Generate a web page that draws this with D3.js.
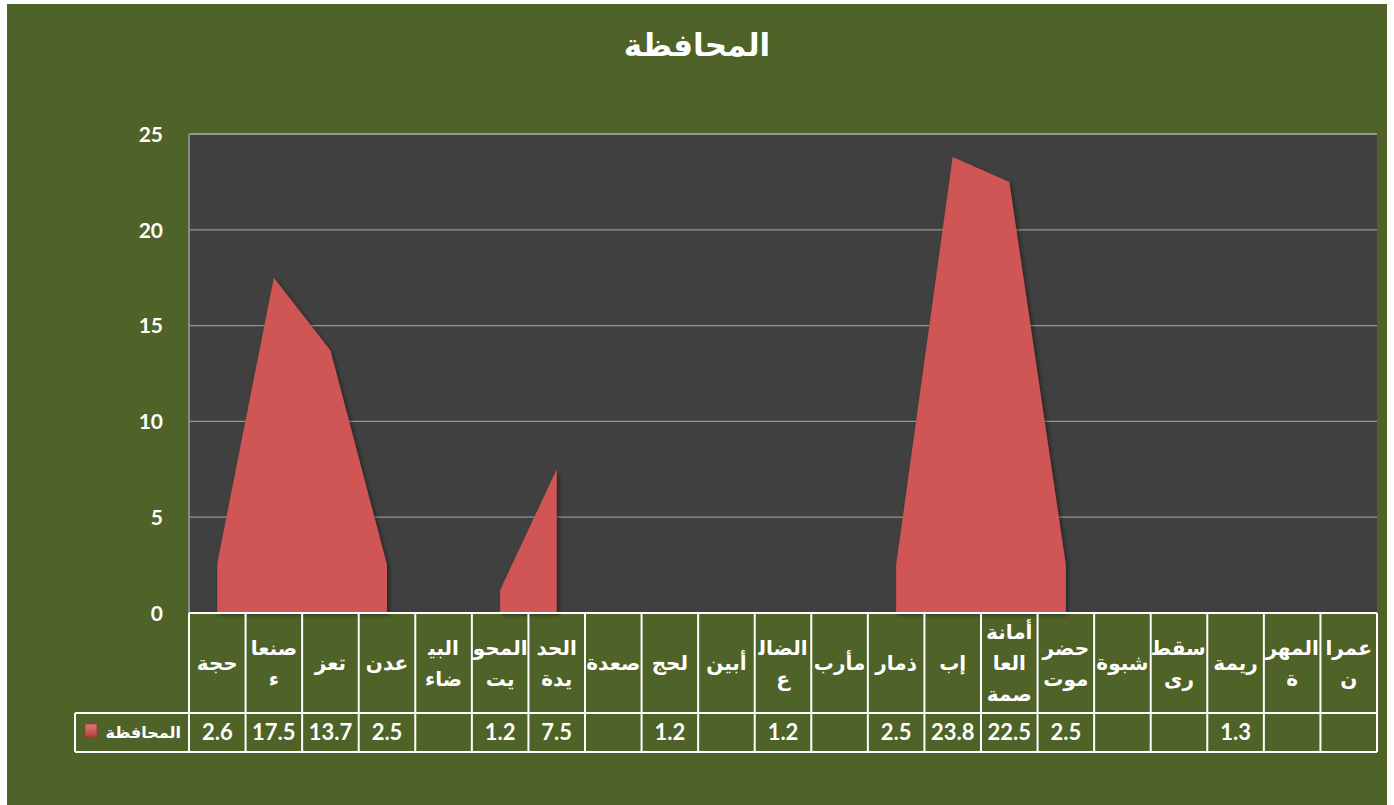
<!DOCTYPE html>
<meta charset="utf-8">
<head>
<style>
body { margin: 0; background: #fff; }
.ar { font-family: "DejaVu Sans", sans-serif; font-weight: bold; fill: #fff; }
.num { font-family: Lato, "Open Sans", sans-serif; font-weight: bold; fill: #fff; }
</style>
<script src="https://cdnjs.cloudflare.com/ajax/libs/d3/7.8.5/d3.min.js"></script>
</head>
<body>
<div id="vis-container"></div>
<script>
var chartTitle = 'المحافظة';
var seriesName = 'المحافظة';
var governorates = ['حجة','صنعاء','تعز','عدن','البيضاء','المحويت','الحديدة','صعدة','لحج','أبين','الضالع','مأرب','ذمار','إب','أمانة العاصمة','حضرموت','شبوة','سقطرى','ريمة','المهرة','عمران'];
var values = [2.6, 17.5, 13.7, 2.5, null, 1.2, 7.5, null, 1.2, null, 1.2, null, 2.5, 23.8, 22.5, 2.5, null, null, 1.3, null, null];
// header cells wrap the names the way the table does
var headerLines = [['حجة'],['صنعا','ء'],['تعز'],['عدن'],['البي\u200d','ضاء'],['المحو','يت'],['الحد','يدة'],['صعدة'],['لحج'],['أبين'],['الضال\u200d','ع'],['مأرب'],['ذمار'],['إب'],['أمانة','العا','صمة'],['حضر','موت'],['شبوة'],['سقط\u200d','رى'],['ريمة'],['المهر','ة'],['عمرا','ن']];
var yTicks = [0, 5, 10, 15, 20, 25];

var W = 1394, H = 805;
var plot = {left: 189, right: 1377, top: 134, bottom: 613};
var table = {left: 75, headBottom: 713, bottom: 752};

var svg = d3.select('#vis-container').append('svg')
	.attr('width', W)
	.attr('height', H);

var defs = svg.append('defs');
var shadow = defs.append('filter').attr('id', 'shadow')
	.attr('x', '-10%').attr('y', '-10%').attr('width', '130%').attr('height', '130%');
shadow.append('feDropShadow')
	.attr('dx', 2).attr('dy', 2).attr('stdDeviation', 2)
	.attr('flood-color', '#000').attr('flood-opacity', 0.45);

var keyGrad = defs.append('linearGradient').attr('id', 'keyGrad')
	.attr('x1', 0).attr('y1', 0).attr('x2', 0).attr('y2', 1);
keyGrad.append('stop').attr('offset', '0%').attr('stop-color', '#e57a78');
keyGrad.append('stop').attr('offset', '100%').attr('stop-color', '#b23f3d');

// background
svg.append('rect')
	.attr('x', 7).attr('y', 4)
	.attr('width', 1380).attr('height', H - 4)
	.attr('fill', '#4f6228');

svg.append('rect')
	.attr('x', plot.left).attr('y', plot.top)
	.attr('width', plot.right - plot.left).attr('height', plot.bottom - plot.top)
	.attr('fill', '#404040');

var x = d3.scaleBand().domain(governorates).range([plot.left, plot.right]).padding(0);
var y = d3.scaleLinear().domain([0, 25]).range([plot.bottom, plot.top]);

// gridlines
svg.append('g')
	.selectAll('line')
	.data(yTicks.filter(function(d) { return d > 0; }))
	.enter().append('line')
	.attr('x1', plot.left).attr('x2', plot.right)
	.attr('y1', function(d) { return y(d); })
	.attr('y2', function(d) { return y(d); })
	.attr('stroke', '#959595')
	.attr('stroke-width', function(d) { return d == 25 ? 2 : 1.3; });

svg.append('line')
	.attr('x1', plot.left).attr('x2', plot.left)
	.attr('y1', plot.top).attr('y2', plot.bottom)
	.attr('stroke', '#8a8a8a').attr('stroke-width', 2);

// y axis
var yAxis = svg.append('g')
	.attr('transform', 'translate(' + plot.left + ',0)')
	.call(d3.axisLeft(y).tickValues(yTicks).tickSize(0).tickPadding(26));
yAxis.select('.domain').remove();
yAxis.selectAll('text')
	.attr('class', 'num')
	.attr('font-size', 21)
	.attr('dy', '0.35em');

// area with gaps where there is no value
var rows = governorates.map(function(g, i) { return {name: g, value: values[i]}; });
var area = d3.area()
	.defined(function(d) { return d.value != null; })
	.x(function(d) { return x(d.name) + x.bandwidth() / 2; })
	.y0(y(0))
	.y1(function(d) { return y(d.value); });

svg.append('path')
	.datum(rows)
	.attr('d', area)
	.attr('fill', '#d05654')
	.attr('filter', 'url(#shadow)');

// data table
var grid = svg.append('g').attr('stroke', '#fff').attr('stroke-width', 2);
grid.append('line').attr('x1', plot.left).attr('x2', plot.right).attr('y1', plot.bottom).attr('y2', plot.bottom);
grid.append('line').attr('x1', table.left).attr('x2', plot.right).attr('y1', table.headBottom).attr('y2', table.headBottom);
grid.append('line').attr('x1', table.left).attr('x2', plot.right).attr('y1', table.bottom).attr('y2', table.bottom);
grid.append('line').attr('x1', table.left).attr('x2', table.left).attr('y1', table.headBottom).attr('y2', table.bottom);
grid.selectAll('.vline')
	.data(governorates.concat(['end']))
	.enter().append('line')
	.attr('x1', function(d) { return d == 'end' ? plot.right : x(d); })
	.attr('x2', function(d) { return d == 'end' ? plot.right : x(d); })
	.attr('y1', plot.bottom).attr('y2', table.bottom);

var headMid = (plot.bottom + table.headBottom) / 2;
var lineGap = 31;
var heads = svg.append('g').selectAll('g')
	.data(rows)
	.enter().append('g');
heads.each(function(d, i) {
	var lines = headerLines[i];
	var g = d3.select(this);
	for (var k = 0; k < lines.length; k++) {
		g.append('text')
			.attr('class', 'ar')
			.attr('direction', 'rtl')
			.attr('text-anchor', 'middle')
			.attr('font-size', 20)
			.attr('x', x(d.name) + x.bandwidth() / 2)
			.attr('y', headMid + (k - (lines.length - 1) / 2) * lineGap)
			.attr('dy', '0.35em')
			.text(lines[k]);
	}
});

svg.append('g').selectAll('text')
	.data(rows.filter(function(d) { return d.value != null; }))
	.enter().append('text')
	.attr('class', 'num')
	.attr('font-size', 22)
	.attr('text-anchor', 'middle')
	.attr('x', function(d) { return x(d.name) + x.bandwidth() / 2; })
	.attr('y', (table.headBottom + table.bottom) / 2)
	.attr('dy', '0.36em')
	.text(function(d) { return d.value; });

// legend cell
svg.append('rect')
	.attr('x', 85).attr('y', 724)
	.attr('width', 12).attr('height', 13)
	.attr('fill', 'url(#keyGrad)')
	.attr('stroke', '#9c3533').attr('stroke-width', 0.8);
svg.append('text')
	.attr('class', 'ar')
	.attr('direction', 'rtl')
	.attr('text-anchor', 'start')
	.attr('font-size', 16)
	.attr('x', 181)
	.attr('y', (table.headBottom + table.bottom) / 2)
	.attr('dy', '0.35em')
	.text(seriesName);

// title
svg.append('text')
	.attr('class', 'ar')
	.attr('direction', 'rtl')
	.attr('text-anchor', 'middle')
	.attr('font-size', 31)
	.attr('x', 697)
	.attr('y', 45)
	.attr('dy', '0.35em')
	.text(chartTitle);
</script>
</body>
</html>
